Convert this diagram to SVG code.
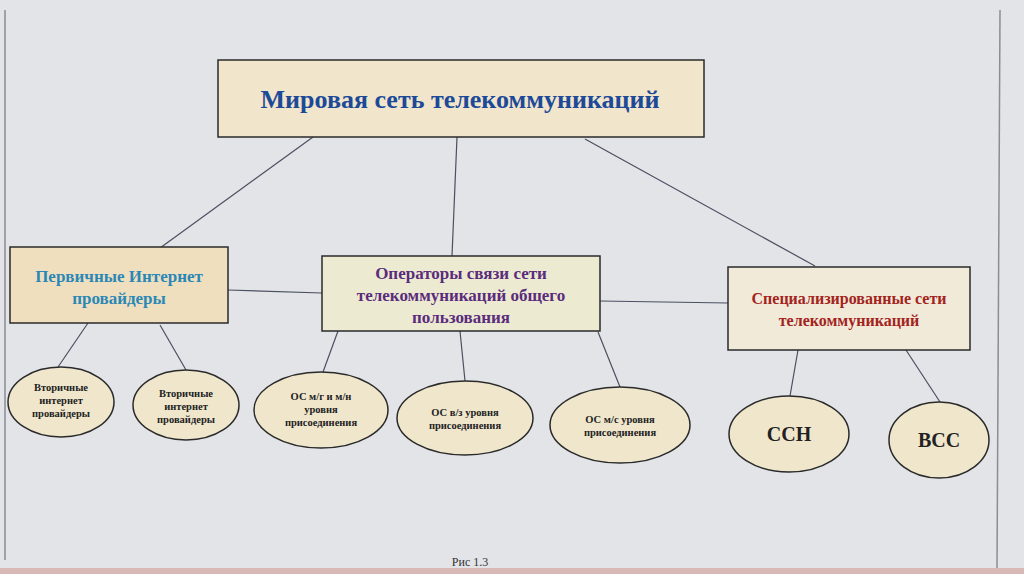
<svg xmlns="http://www.w3.org/2000/svg" width="1024" height="574" viewBox="0 0 1024 574">
<style>
.box{stroke:#2a2a2a;stroke-width:1.5}
.ell{stroke:#2a2a2a;stroke-width:1.5;fill:#efe6cc}
.t{font-family:"Liberation Serif","DejaVu Serif",serif;font-weight:bold;text-anchor:middle}
.s{font-size:10.5px;fill:#222}
.c line{stroke:#4a5060;stroke-width:1.2}
.cap{font-family:"Liberation Serif","DejaVu Serif",serif;font-size:12px;text-anchor:middle;fill:#333}
</style>
<rect width="1024" height="574" fill="#e2e4e8"/>
<line x1="5" y1="10" x2="5" y2="560" stroke="#8a8d94" stroke-width="1.5"/>
<line x1="1000" y1="10" x2="997" y2="570" stroke="#8a8d94" stroke-width="1.5"/>
<rect x="0" y="568" width="1024" height="6" fill="#d9b9b5"/>
<g class="c">
<line x1="313" y1="137" x2="160" y2="248"/>
<line x1="457" y1="137" x2="452" y2="256"/>
<line x1="585" y1="139" x2="815" y2="266"/>
<line x1="228" y1="290" x2="322" y2="293"/>
<line x1="600" y1="301" x2="728" y2="303"/>
<line x1="88" y1="323" x2="58" y2="367"/>
<line x1="160" y1="325" x2="186" y2="370"/>
<line x1="338" y1="331" x2="323" y2="372"/>
<line x1="460" y1="331" x2="465" y2="381"/>
<line x1="598" y1="332" x2="620" y2="387"/>
<line x1="798" y1="350" x2="790" y2="396"/>
<line x1="906" y1="350" x2="940" y2="402"/>
</g>
<g id="top">
<rect class="box" x="218" y="60" width="486" height="77" fill="#f1e5cb"/>
<text class="t" x="460" y="108" font-size="26" fill="#1c4a98">Мировая сеть телекоммуникаций</text>
</g>
<g id="primary">
<rect class="box" x="10" y="247" width="218" height="76" fill="#f0dfbe"/>
<text class="t" x="119" y="282" font-size="17" fill="#2b88b6">Первичные Интернет</text>
<text class="t" x="119" y="304" font-size="17" fill="#2b88b6">провайдеры</text>
</g>
<g id="operators">
<rect class="box" x="322" y="256" width="278" height="75" fill="#ecebd2"/>
<text class="t" x="461" y="279" font-size="17" fill="#5b2b7c">Операторы связи сети</text>
<text class="t" x="461" y="301" font-size="17" fill="#5b2b7c">телекоммуникаций общего</text>
<text class="t" x="461" y="323" font-size="17" fill="#5b2b7c">пользования</text>
</g>
<g id="special">
<rect class="box" x="728" y="267" width="242" height="83" fill="#f1ead8"/>
<text class="t" x="849" y="304" font-size="16" fill="#a3231d">Специализированные сети</text>
<text class="t" x="849" y="326" font-size="16" fill="#a3231d">телекоммуникаций</text>
</g>
<g id="sec1">
<ellipse class="ell" cx="61" cy="402" rx="53" ry="35"/>
<text class="t s" x="61" y="391">Вторичные</text>
<text class="t s" x="61" y="404">интернет</text>
<text class="t s" x="61" y="417">провайдеры</text>
</g>
<g id="sec2">
<ellipse class="ell" cx="186" cy="405" rx="53" ry="35"/>
<text class="t s" x="186" y="397">Вторичные</text>
<text class="t s" x="186" y="410">интернет</text>
<text class="t s" x="186" y="423">провайдеры</text>
</g>
<g id="os1">
<ellipse class="ell" cx="321" cy="410" rx="67" ry="38"/>
<text class="t s" x="321" y="400">ОС м/г и м/н</text>
<text class="t s" x="321" y="413">уровня</text>
<text class="t s" x="321" y="426">присоединения</text>
</g>
<g id="os2">
<ellipse class="ell" cx="465" cy="418" rx="68" ry="37" fill="#e8ebd2"/>
<text class="t s" x="465" y="416">ОС в/з уровня</text>
<text class="t s" x="465" y="429">присоединения</text>
</g>
<g id="os3">
<ellipse class="ell" cx="620" cy="425" rx="70" ry="38"/>
<text class="t s" x="620" y="423">ОС м/с уровня</text>
<text class="t s" x="620" y="436">присоединения</text>
</g>
<g id="ssn">
<ellipse class="ell" cx="789" cy="434" rx="60" ry="38"/>
<text class="t" x="789" y="441" font-size="20" fill="#222">ССН</text>
</g>
<g id="vss">
<ellipse class="ell" cx="939" cy="440" rx="50" ry="38"/>
<text class="t" x="939" y="447" font-size="20" fill="#222">ВСС</text>
</g>
<text class="cap" x="470" y="566">Рис 1.3</text>
</svg>
